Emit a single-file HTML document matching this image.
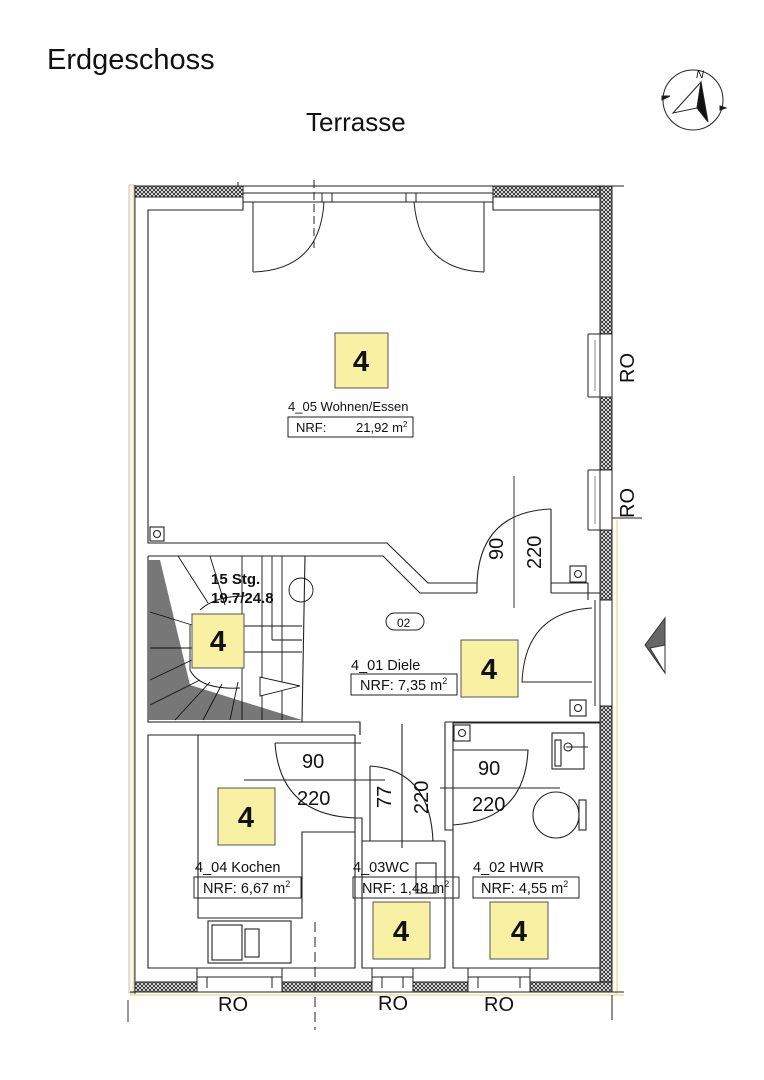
<!DOCTYPE html>
<html><head><meta charset="utf-8"><style>
html,body{margin:0;padding:0;background:#fff;}
svg{display:block;font-family:"Liberation Sans",Arial,sans-serif;}
</style></head><body>
<svg width="764" height="1080" viewBox="0 0 764 1080" xmlns="http://www.w3.org/2000/svg">
<defs>
<pattern id="h" width="4" height="4" patternUnits="userSpaceOnUse">
<rect width="4" height="4" fill="#fff"/>
<path d="M0,0L4,4M4,0L0,4" stroke="#222" stroke-width="0.9"/>
</pattern>
</defs>
<rect width="764" height="1080" fill="#fff"/>
<text x="47" y="69" font-size="29" fill="#111">Erdgeschoss</text>
<text x="306" y="131" font-size="26" fill="#111">Terrasse</text>

<!-- compass -->
<g stroke="#222" fill="none">
<circle cx="693" cy="100" r="30" stroke-width="1"/>
<polygon points="701,82 673,113 697,108" stroke-width="1"/>
<polygon points="701,82 697,108 708,122" fill="#111"/>
<path d="M662,96l8,0l-8,4z M720,106l0,4l6,-2z" fill="#111"/>
</g>
<text x="696" y="78" font-size="11" font-style="italic" fill="#111">N</text>

<!-- left light wall -->
<rect x="129" y="185" width="5" height="808" fill="#fbf8d8" stroke="#99a" stroke-width="0.6"/>
<line x1="135" y1="185" x2="135" y2="995" stroke="#333" stroke-width="1"/>
<line x1="128" y1="1000" x2="128" y2="1022" stroke="#333"/>

<!-- top wall -->
<rect x="135" y="186" width="108" height="11" fill="url(#h)" stroke="#222"/>
<rect x="493" y="186" width="119" height="11" fill="url(#h)" stroke="#222"/>
<line x1="135" y1="186" x2="624" y2="186" stroke="#222"/>
<line x1="243" y1="193" x2="493" y2="193" stroke="#222"/>
<line x1="243" y1="202" x2="493" y2="202" stroke="#222"/>
<line x1="253" y1="202" x2="253" y2="272" stroke="#222"/>
<line x1="484" y1="202" x2="484" y2="272" stroke="#222"/>
<path d="M253,272 Q320,270 324,202 M484,272 Q420,270 414,202" stroke="#222" fill="none"/>
<rect x="322" y="193" width="10" height="9" fill="none" stroke="#222"/>
<rect x="406" y="193" width="10" height="9" fill="none" stroke="#222"/>
<line x1="314" y1="180" x2="314" y2="250" stroke="#222" stroke-dasharray="8,4"/>
<line x1="238" y1="182" x2="238" y2="186" stroke="#222"/>

<!-- right wall -->
<rect x="600" y="186" width="12" height="148" fill="url(#h)" stroke="#222"/>
<rect x="600" y="397" width="12" height="73" fill="url(#h)" stroke="#222"/>
<rect x="600" y="530" width="12" height="70" fill="url(#h)" stroke="#222"/>
<rect x="600" y="706" width="12" height="286" fill="url(#h)" stroke="#222"/>
<line x1="612" y1="186" x2="612" y2="992" stroke="#222"/>
<line x1="588" y1="334" x2="588" y2="397" stroke="#222"/>
<line x1="600" y1="334" x2="600" y2="397" stroke="#222"/>
<line x1="595" y1="340" x2="595" y2="391" stroke="#888"/>
<line x1="588" y1="470" x2="588" y2="530" stroke="#222"/>
<line x1="600" y1="470" x2="600" y2="530" stroke="#222"/>
<line x1="595" y1="476" x2="595" y2="524" stroke="#888"/>
<line x1="588" y1="397" x2="600" y2="397" stroke="#222"/>
<line x1="588" y1="334" x2="600" y2="334" stroke="#222"/>
<line x1="588" y1="470" x2="600" y2="470" stroke="#222"/>
<line x1="588" y1="530" x2="600" y2="530" stroke="#222"/>
<line x1="612" y1="518" x2="642" y2="518" stroke="#222"/>
<line x1="617" y1="520" x2="617" y2="995" stroke="#eeeab0" stroke-width="2"/>
<!-- entrance -->
<line x1="595" y1="600" x2="595" y2="706" stroke="#222"/>
<line x1="600" y1="600" x2="600" y2="706" stroke="#222"/>
<path d="M592,608 Q525,612 522,682 L592,682" stroke="#222" fill="none"/>
<polygon points="665,618 665,673 645,645" fill="#666" stroke="#333"/>
<polygon points="665,645 665,673 650,648" fill="#fff" stroke="#333"/>

<!-- bottom wall -->
<rect x="135" y="982" width="62" height="10" fill="url(#h)" stroke="#222"/>
<rect x="282" y="982" width="90" height="10" fill="url(#h)" stroke="#222"/>
<rect x="413" y="982" width="55" height="10" fill="url(#h)" stroke="#222"/>
<rect x="530" y="982" width="82" height="10" fill="url(#h)" stroke="#222"/>
<line x1="130" y1="992" x2="624" y2="992" stroke="#222"/>
<line x1="130" y1="995" x2="624" y2="995" stroke="#eeeab0" stroke-width="2"/>
<g stroke="#222" fill="none">
<rect x="197" y="968" width="85" height="24"/><line x1="197" y1="977" x2="282" y2="977"/>
<rect x="372" y="968" width="41" height="24"/><line x1="372" y1="977" x2="413" y2="977"/>
<rect x="468" y="968" width="62" height="24"/><line x1="468" y1="977" x2="530" y2="977"/>
<line x1="207" y1="977" x2="207" y2="988"/><line x1="272" y1="977" x2="272" y2="988"/>
<line x1="382" y1="977" x2="382" y2="988"/><line x1="403" y1="977" x2="403" y2="988"/>
<line x1="478" y1="977" x2="478" y2="988"/><line x1="520" y1="977" x2="520" y2="988"/>
<line x1="315" y1="922" x2="315" y2="1030" stroke-dasharray="10,5"/>
<line x1="612" y1="995" x2="612" y2="1020"/>
</g>

<!-- interior -->
<g stroke="#222" fill="none" stroke-width="1.1">
<path d="M243,197 L243,210 L148,210 L148,543 L387,543 L428,583 L477,583"/>
<path d="M493,197 L493,210 L600,210"/>
<path d="M551,583 L588,583 L588,600"/>
<path d="M148,556 L383,556 L420,593 L477,593 M551,593 L600,593"/>
<line x1="477" y1="583" x2="477" y2="593"/>
<line x1="551" y1="583" x2="551" y2="593"/>
<line x1="551" y1="509" x2="551" y2="583"/>
<path d="M551,509 Q480,512 477,583"/>
<line x1="514" y1="476" x2="514" y2="608" stroke-width="0.9"/>
<rect x="150" y="527" width="14" height="14"/><circle cx="157" cy="534" r="3.5"/>
<rect x="570" y="566" width="16" height="16"/><circle cx="578" cy="574" r="3.5"/>
<rect x="570" y="700" width="16" height="16"/><circle cx="578" cy="708" r="3.5"/>
<path d="M148,556 L148,722 L360,722 L360,735 M305,556 L302,722"/>
</g>
<polygon points="148,560 160,560 190,685 302,720 148,720" fill="#777"/>
<g stroke="#111" fill="none" stroke-width="0.9">
<line x1="148" y1="722" x2="302" y2="722"/>
<line x1="178" y1="556" x2="208" y2="603"/><line x1="210" y1="556" x2="225" y2="605"/>
<line x1="150" y1="612" x2="192" y2="625"/><line x1="150" y1="648" x2="192" y2="648"/>
<line x1="150" y1="680" x2="192" y2="660"/><line x1="150" y1="705" x2="200" y2="680"/>
<line x1="175" y1="720" x2="210" y2="682"/><line x1="203" y1="720" x2="222" y2="684"/>
<line x1="230" y1="720" x2="238" y2="682"/>
<path d="M200,610 Q215,596 245,596"/><path d="M190,625 L190,670 Q200,690 240,688"/>
<line x1="242" y1="556" x2="242" y2="720"/><line x1="262" y1="556" x2="262" y2="720"/>
<line x1="282" y1="556" x2="282" y2="720"/><line x1="272" y1="556" x2="272" y2="640"/>
<line x1="244" y1="626" x2="302" y2="626"/><line x1="272" y1="640" x2="302" y2="640"/>
<line x1="244" y1="652" x2="302" y2="652"/>
<polygon points="260,677 260,696 300,686" fill="#fff"/>
<circle cx="301" cy="590" r="12"/>
</g>
<text x="211" y="584" font-size="15" font-weight="bold" fill="#111">15 Stg.</text>
<text x="211" y="603" font-size="15" font-weight="bold" fill="#111">19.7/24.8</text>

<!-- lower rooms -->
<g stroke="#222" fill="none" stroke-width="1.1">
<path d="M148,735 L355,735 L355,968 L148,968 Z"/>
<path d="M198,735 L198,918 L302,918 L302,832 L355,832"/>
<rect x="208" y="921" width="83" height="42"/><rect x="212" y="925" width="30" height="35"/><rect x="245" y="929" width="14" height="28"/>
<path d="M275,743 Q280,815 355,818"/>
<line x1="275" y1="743" x2="361" y2="743"/>
<line x1="244" y1="780" x2="385" y2="780"/>
<path d="M355,818 L362,818 L362,968 L445,968 L445,841 L362,841"/>
<path d="M370,766 L370,841 M370,766 Q430,770 433,841"/>
<line x1="402" y1="724" x2="402" y2="848"/>
<path d="M360,722 L360,735 M445,722 L445,830 L453,830 M445,722 L600,722"/>
<path d="M453,723 L600,723 L600,968 L453,968 Z"/>
<rect x="454" y="725" width="16" height="16"/><circle cx="462" cy="733" r="3.5"/>
<path d="M453,750 L528,750 Q525,820 453,825"/>
<line x1="440" y1="788" x2="560" y2="788"/>
<rect x="552" y="733" width="32" height="36"/><rect x="555" y="740" width="6" height="26"/>
<circle cx="568" cy="747" r="4"/><line x1="566" y1="747" x2="588" y2="747"/>
<circle cx="556" cy="815" r="23"/><rect x="579" y="800" width="7" height="30"/>
<rect x="416" y="863" width="20" height="30"/>
</g>

<!-- labels -->
<g font-size="14.5" fill="#111">
<text x="288" y="411" font-size="13">4_05 Wohnen/Essen</text>
<rect x="288" y="417" width="125" height="20" fill="none" stroke="#222"/>
<text x="296" y="432" font-size="13">NRF:</text><text x="356" y="432" font-size="13">21,92 m<tspan font-size="8" dy="-5">2</tspan></text>
<text x="351" y="670">4_01 Diele</text>
<rect x="351" y="674" width="106" height="21" fill="none" stroke="#222"/>
<text x="360" y="690">NRF: 7,35 m<tspan font-size="9" dy="-6">2</tspan></text>
<text x="195" y="872">4_04 Kochen</text>
<rect x="194" y="877" width="107" height="21" fill="none" stroke="#222"/>
<text x="203" y="893">NRF: 6,67 m<tspan font-size="9" dy="-6">2</tspan></text>
<text x="353" y="872">4_03WC</text>
<rect x="353" y="877" width="106" height="21" fill="none" stroke="#222"/>
<text x="362" y="893">NRF: 1,48 m<tspan font-size="9" dy="-6">2</tspan></text>
<text x="473" y="872">4_02 HWR</text>
<rect x="473" y="877" width="106" height="21" fill="none" stroke="#222"/>
<text x="481" y="893">NRF: 4,55 m<tspan font-size="9" dy="-6">2</tspan></text>
<text x="397" y="627" font-size="12">02</text>
</g>
<rect x="386" y="613" width="38" height="17" rx="8.5" fill="none" stroke="#222"/>

<g font-size="20" fill="#111">
<text x="302" y="768">90</text><text x="297" y="805">220</text>
<text x="478" y="775">90</text><text x="472" y="811">220</text>
<text transform="translate(503,560) rotate(-90)">90</text>
<text transform="translate(541,569) rotate(-90)">220</text>
<text transform="translate(391,808) rotate(-90)">77</text>
<text transform="translate(428,814) rotate(-90)">220</text>
<text transform="translate(634,383) rotate(-90)">RO</text>
<text transform="translate(634,518) rotate(-90)">RO</text>
<text x="218" y="1011">RO</text><text x="378" y="1010">RO</text><text x="484" y="1011">RO</text>
</g>

<!-- yellow boxes -->
<g fill="#f8f1a4" stroke="#555" stroke-width="1">
<rect x="335" y="333" width="53" height="55"/>
<rect x="192" y="614" width="52" height="54"/>
<rect x="461" y="640" width="57" height="57"/>
<rect x="218" y="788" width="57" height="57"/>
<rect x="373" y="902" width="57" height="57"/>
<rect x="490" y="902" width="58" height="57"/>
</g>
<g font-size="29" font-weight="bold" fill="#111" text-anchor="middle">
<text x="361" y="371">4</text><text x="218" y="651">4</text><text x="489" y="679">4</text>
<text x="246" y="827">4</text><text x="401" y="941">4</text><text x="519" y="941">4</text>
</g>
</svg>
</body></html>
